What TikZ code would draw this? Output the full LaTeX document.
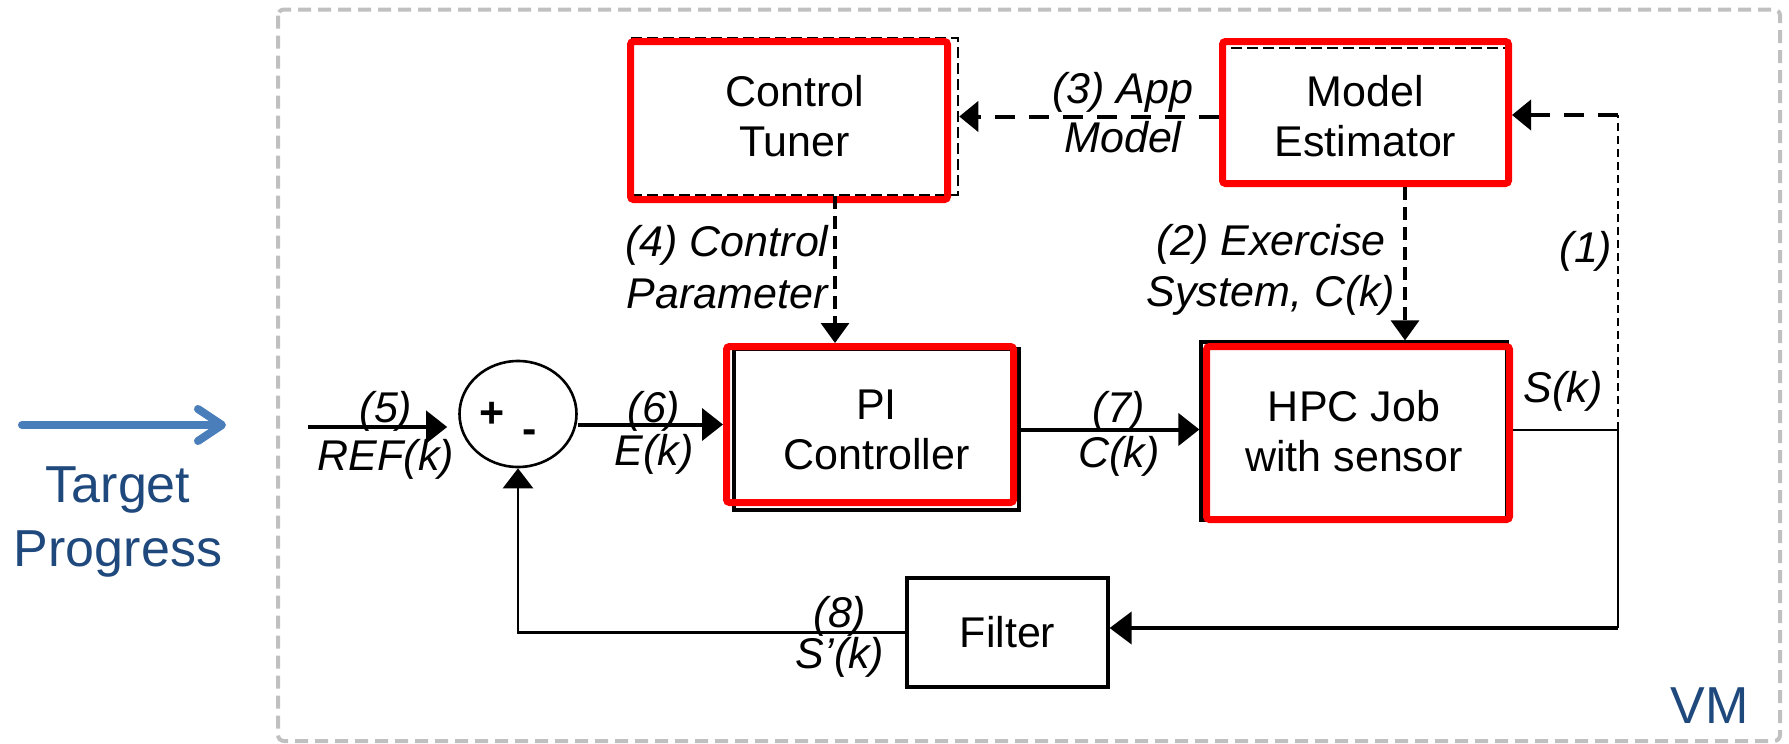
\documentclass[tikz,border=0pt]{standalone}
\usepackage{fontspec}
\setmainfont{Liberation Sans}
\usetikzlibrary{arrows.meta,shapes.geometric,calc}
\definecolor{vmblue}{HTML}{1F497D}
\definecolor{tgtblue}{HTML}{4A7EBB}
\definecolor{vmgray}{HTML}{C0C0C0}
\definecolor{hired}{HTML}{FF0000}
\newcommand\boxfnt{\fontsize{21.5}{25}\selectfont}
\newcommand\labfnt[1]{\fontsize{21.5}{#1}\selectfont\itshape}
\begin{document}
\begin{tikzpicture}[x=0.5pt,y=-0.5pt,
  blk/.style={draw=black, line width=1.6pt, inner sep=0pt, align=center, font=\boxfnt},
  blkdash/.style={blk, line width=1.25pt, dash pattern=on 5.5pt off 2.5pt},
  redbox/.style={draw=hired, line width=3.5pt, rounded corners=1.5pt, inner sep=0pt},
  lab/.style={inner sep=0pt, align=center, font=\labfnt{24}},
  solidarr/.style={line width=2pt, -{Triangle[length=10.5pt,width=16pt]}},
  dasharrh/.style={line width=2pt, dash pattern=on 10pt off 7pt, -{Triangle[length=9.5pt,width=15pt]}},
  dasharrv/.style={line width=1.6pt, dash pattern=on 6.5pt off 3.5pt, -{Triangle[length=10pt,width=14pt]}}
]
\useasboundingbox (0,0) rectangle (1789,744);
% VM frame
\draw[vmgray, line width=2pt, dash pattern=on 6.5pt off 3.5pt, rounded corners=3pt] (278,9.5) rectangle (1780,741);
\node[font=\fontsize{26}{32}\selectfont, text=vmblue, inner sep=0pt] (vm) at (1709.5,706) {VM};

% Target progress
\coordinate (tgtA) at (22,425);
\coordinate (tgtB) at (226,425);
\draw[tgtblue, line width=4pt, line cap=round, -{Straight Barb[length=12pt,width=16pt,round]}] (tgtA) -- (tgtB);
\node[font=\fontsize{26}{32}\selectfont, text=vmblue, align=center, inner sep=0pt] (target) at (118,522) {Target\\Progress};

% black boxes
\node[blkdash, minimum width=163.5pt, minimum height=78.5pt] (ct) at (794.5,116.5) {Control\\Tuner};
\node[blkdash, minimum width=142.5pt, minimum height=68.5pt] (me) at (1365.5,116.5) {Model\\Estimator};
\node[blk, minimum width=142.5pt, minimum height=80.5pt] (pi) at (876.5,429.5) {PI\\Controller};
\node[blk, minimum width=153pt, minimum height=89pt] (hpc) at (1354,431) {HPC Job\\with sensor};
\node[blk, minimum width=100.5pt, minimum height=54.5pt] (filter) at (1007.5,632.5) {Filter};

% red highlight boxes
\node[redbox, minimum width=158.5pt, minimum height=79pt] (ctR) at (789,120.5) {};
\node[redbox, minimum width=143pt, minimum height=71pt] (meR) at (1365.5,112.5) {};
\node[redbox, minimum width=143.5pt, minimum height=78pt] (piR) at (870,424.5) {};
\node[redbox, minimum width=151.5pt, minimum height=86.5pt] (hpcR) at (1358,433) {};

% summing junction
\node[draw, ellipse, line width=1.3pt, minimum width=58.5pt, minimum height=53pt, inner sep=0pt] (sum) at (518,414) {};
\node[font=\bfseries\fontsize{21.5}{25}\selectfont, inner sep=0pt] (plus) at (492,415) {+};
\node[font=\bfseries\fontsize{21.5}{25}\selectfont, inner sep=0pt] (minus) at (530,437) {-};

% helper coordinates
\coordinate (in5) at (308,427);
\coordinate (x4) at (835,0);
\coordinate (x2) at (1405,0);
\coordinate (c1) at (1618,430);
\coordinate (c2) at (1618,115);
\coordinate (c3) at (1618,628);

% connectors
\draw[solidarr, shorten >=5.5pt] (in5) -- (in5 -| sum.west);
\draw[solidarr] (sum.east |- piR.west) -- (piR.west);
\draw[solidarr] (pi.east) -- (pi.east -| hpc.west);
\draw[dasharrh] (meR.west |- ct.east) -- (ct.east);
\draw[line width=1.3pt, dash pattern=on 4pt off 2.5pt] (c1) -- (c2);
\draw[dasharrh] (c2) -- (c2 -| meR.east);
\draw[dasharrv] (ct.south -| x4) -- (piR.north -| x4);
\draw[dasharrv] (meR.south -| x2) -- (hpc.north -| x2);
\draw[line width=1.1pt] (hpcR.east |- c1) -- (c1) -- (c3);
\draw[line width=2pt, -{Triangle[length=11pt,width=16pt]}] (c3) -- (c3 -| filter.east);
\draw[line width=1.3pt, -{Triangle[length=10pt,width=15pt]}] (filter.west) -- (filter.west -| sum.south) -- (sum.south);

% labels
\node[lab, font=\labfnt{24.5}] (l3) at (1123,113) {(3) App\\Model};
\node[lab, font=\labfnt{26}] (l4) at (727,267) {(4) Control\\Parameter};
\node[lab, font=\labfnt{25.5}] (l2) at (1271,270) {(2) Exercise\\System, C(k)};
\node[lab] (l5) at (386,435) {(5)\\REF(k)};
\node[lab, font=\labfnt{21.5}] (l6) at (654,432.5) {(6)\\E(k)};
\node[lab, font=\labfnt{22.5}] (l7) at (1119,433.5) {(7)\\C(k)};
\node[lab, font=\labfnt{20.5}] (l8) at (840,636.5) {(8)\\S'(k)};
\node[lab] (sk) at (1563,391) {S(k)};
\node[lab] (l1) at (1586,251) {(1)};
\end{tikzpicture}
\end{document}
